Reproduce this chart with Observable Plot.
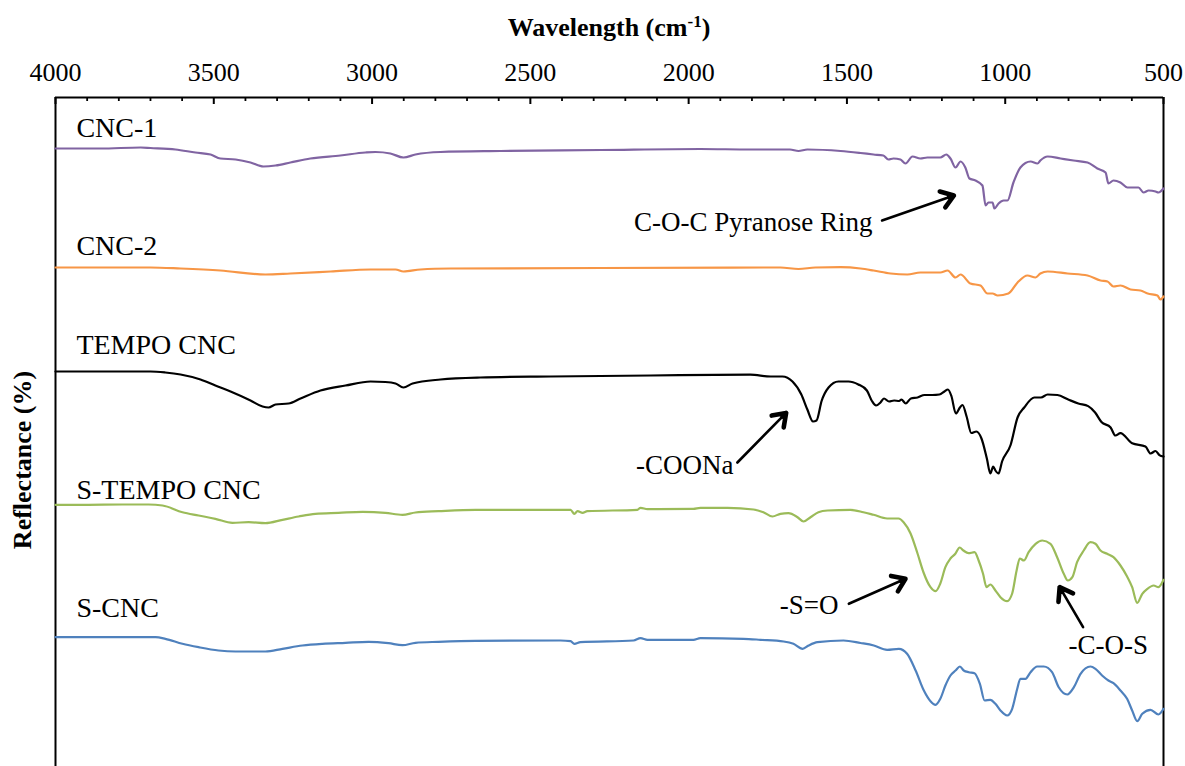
<!DOCTYPE html>
<html>
<head>
<meta charset="utf-8">
<script src="https://cdn.jsdelivr.net/npm/d3@7"></script>
<script src="https://cdn.jsdelivr.net/npm/@observablehq/plot@0.6"></script>
<style>
  html, body { margin: 0; padding: 0; background: #fff; }
  #chart { width: 1185px; height: 766px; overflow: hidden; }
</style>
</head>
<body>
<div id="chart"></div>
<script>
// ---------------- DATA ----------------
const xTicks = [4000, 3500, 3000, 2500, 2000, 1500, 1000, 500];
const xMinorTicks = [3900,3800,3700,3600,3400,3300,3200,3100,2900,2800,2700,2600,2400,2300,2200,2100,1900,1800,1700,1600,1400,1300,1200,1100,900,800,700,600];

const seriesNames = ["CNC-1", "CNC-2", "TEMPO CNC", "S-TEMPO CNC", "S-CNC"];
const seriesColors = ["#8064A2", "#F79646", "#000000", "#9BBB59", "#4F81BD"];

// [wavenumber (cm-1), reflectance (offset, a.u.)]
const cnc1 = [
[4000,61.8],[3858,61.8],[3731,61.9],[3700,61.85],[3621,61.7],[3558,61.4],[3510,61.2],[3479,60.8],[3431,60.7],[3384,60.4],
[3343,60.0],[3305,60.1],[3258,60.4],[3195,60.8],[3100,61.1],[3021,61.4],[2989,61.45],[2942,61.3],[2901,60.9],[2863,61.2],
[2784,61.45],[2594,61.55],[2278,61.65],[1963,61.75],[1805,61.7],[1680,61.7],[1653,61.55],[1625,61.7],[1520,61.55],[1457,61.35],
[1416,61.2],[1385,61.1],[1369,60.7],[1353,60.8],[1331,60.7],[1315,60.3],[1293,61.0],[1268,60.8],[1246,60.9],[1205,60.9],
[1186,61.2],[1173,60.8],[1157,59.9],[1141,60.5],[1126,59.9],[1113,58.8],[1094,58.6],[1072,58.1],[1062,56.1],[1053,56.4],
[1040,56.4],[1034,55.8],[1021,56.3],[1005,56.6],[993,56.6],[974,58.4],[952,59.9],[920,60.5],[898,60.3],[889,60.6],
[866,61.0],[825,60.8],[784,60.6],[740,60.4],[709,59.8],[683,59.4],[674,58.3],[658,58.6],[636,58.4],[614,57.9],
[579,57.9],[563,57.4],[547,57.6],[525,57.5],[516,57.4],[500,57.8]
];
const cnc2 = [
[4000,49.9],[3700,49.9],[3605,49.8],[3479,49.6],[3337,49.2],[3258,49.3],[3131,49.5],[3005,49.7],[2926,49.7],[2901,49.5],
[2847,49.7],[2752,49.8],[2278,49.85],[1710,49.9],[1653,49.75],[1600,49.9],[1520,49.93],[1457,49.8],[1416,49.6],[1362,49.3],
[1309,49.2],[1268,49.4],[1205,49.4],[1182,49.6],[1157,48.9],[1141,49.2],[1110,48.3],[1078,48.1],[1056,47.3],[1040,47.3],
[1024,47.1],[990,47.3],[961,48.4],[930,49.1],[904,48.9],[889,49.3],[866,49.5],[803,49.3],[740,49.1],[699,48.6],
[677,48.5],[658,48.0],[636,48.1],[604,47.7],[573,47.6],[550,47.3],[519,47.1],[510,46.7],[500,47.0]
];
const tempo = [
[4000,39.5],[3700,39.5],[3653,39.4],[3605,39.2],[3542,38.7],[3495,38.1],[3447,37.5],[3384,36.6],[3346,36.0],[3327,35.9],
[3305,36.2],[3264,36.3],[3226,36.8],[3163,37.6],[3084,38.1],[3005,38.5],[2958,38.45],[2926,38.3],[2901,37.9],[2872,38.3],
[2784,38.7],[2658,38.9],[2436,39.0],[2120,39.1],[1805,39.18],[1741,39.0],[1704,39.0],[1672,38.5],[1644,37.2],[1625,35.7],
[1607,34.5],[1596,34.6],[1580,36.55],[1558,37.9],[1527,38.5],[1495,38.5],[1464,38.2],[1437,37.6],[1421,36.55],[1408,36.1],
[1394,36.4],[1383,36.8],[1367,36.5],[1351,36.6],[1335,36.55],[1328,36.7],[1314,36.3],[1298,36.8],[1277,36.9],[1255,37.15],
[1230,37.15],[1208,37.2],[1192,37.5],[1181,37.7],[1170,37.05],[1156,35.3],[1143,35.9],[1135,36.15],[1122,35.0],[1107,33.35],
[1091,33.5],[1075,32.8],[1058,30.8],[1047,29.3],[1038,30.0],[1031,29.6],[1021,29.3],[1010,30.5],[983,32.15],[961,34.9],
[940,35.9],[908,36.9],[887,36.9],[866,37.2],[835,37.15],[801,36.7],[769,36.3],[738,36.04],[716,35.4],[696,34.45],
[667,33.9],[652,33.1],[636,33.34],[599,32.32],[557,32.0],[541,31.3],[525,31.55],[513,31.14],[500,31.0]
];
const sTempo = [
[4000,26.17],[3896,26.17],[3788,26.2],[3706,26.2],[3662,26.1],[3599,25.43],[3548,25.1],[3495,24.77],[3441,24.37],[3390,24.43],
[3337,24.33],[3283,24.67],[3232,25.0],[3179,25.27],[3106,25.37],[3030,25.47],[2958,25.37],[2904,25.17],[2863,25.4],[2790,25.53],
[2673,25.67],[2446,25.67],[2373,25.67],[2361,25.27],[2351,25.53],[2335,25.37],[2320,25.53],[2162,25.67],[2152,25.87],[2130,25.73],
[1985,25.77],[1963,25.87],[1877,25.87],[1795,25.7],[1764,25.43],[1735,25.0],[1710,25.27],[1685,25.33],[1656,24.93],[1637,24.5],
[1615,24.93],[1590,25.43],[1561,25.6],[1489,25.67],[1448,25.43],[1416,25.17],[1373,24.8],[1337,24.8],[1321,24.43],[1299,23.3],
[1277,21.3],[1258,19.4],[1236,17.93],[1220,17.53],[1205,18.3],[1189,19.93],[1173,20.8],[1157,21.3],[1144,21.9],[1132,21.6],
[1116,21.33],[1097,21.43],[1084,20.6],[1070,19.27],[1059,17.93],[1047,18.2],[1031,17.6],[1015,16.93],[994,16.53],[978,17.3],
[964,19.6],[954,20.8],[941,20.6],[926,21.43],[904,22.27],[883,22.6],[857,22.27],[836,20.93],[815,19.27],[802,18.6],
[788,18.93],[773,20.43],[752,21.6],[731,22.43],[715,22.27],[699,21.6],[678,21.27],[658,20.93],[636,20.1],[615,19.0],
[599,17.93],[583,16.37],[567,17.27],[551,17.77],[531,18.1],[516,17.93],[500,18.67]
];
const sCnc = [
[4000,12.93],[3684,12.93],[3653,12.77],[3599,12.27],[3548,11.93],[3485,11.6],[3431,11.5],[3337,11.5],[3283,11.77],[3220,12.1],
[3157,12.27],[3084,12.37],[3011,12.47],[2948,12.33],[2904,12.13],[2863,12.37],[2790,12.47],[2673,12.57],[2405,12.6],[2373,12.53],
[2361,12.27],[2342,12.43],[2174,12.6],[2152,12.83],[2130,12.67],[1985,12.67],[1963,12.83],[1827,12.77],[1773,12.67],[1700,12.5],
[1669,12.27],[1640,11.77],[1621,12.1],[1593,12.43],[1511,12.6],[1457,12.35],[1415,12.1],[1373,11.67],[1336,11.77],[1310,11.27],
[1283,9.6],[1257,7.6],[1236,6.53],[1220,6.17],[1205,6.77],[1189,8.1],[1173,9.1],[1157,9.6],[1143,10.0],[1131,9.6],
[1115,9.43],[1097,9.33],[1080,8.27],[1065,6.6],[1047,6.67],[1031,6.27],[1015,5.6],[994,5.1],[978,5.77],[962,7.77],
[952,8.77],[936,8.77],[920,9.43],[899,10.0],[878,10.0],[852,9.43],[831,7.93],[804,7.2],[783,7.93],[762,9.27],
[731,10.0],[715,9.77],[694,9.1],[674,8.6],[658,8.33],[636,7.6],[615,6.77],[599,5.6],[583,4.53],[567,5.27],
[541,5.67],[516,5.2],[500,5.77]
];

// series label anchors (wavenumber, value)
const seriesLabelW = [3934, 3934, 3934, 3934, 3934];
const seriesLabelR = [63.8, 52.0, 42.1, 27.6, 15.8];

// band annotations
const annotTexts = ["C-O-C Pyranose Ring", "-COONa", "-S=O", "-C-O-S"];
const annotW = [1419, 1858, 1527, 800];
const annotR = [54.43, 30.1, 16.1, 12.1];
const annotAnchor = ["end", "end", "end", "start"];
const arrowFrom = [[1389, 54.6], [1846, 30.4], [1494, 16.27], [754, 13.93]];
const arrowTo   = [[1162, 57.1], [1692, 35.36], [1315, 18.77], [828, 17.93]];

// ---------------- BUILD ----------------
const xDomain = [4000, 500];
const yTop = 66.9;
const W = 1185, H = 766;
const FONT = "'Liberation Serif', 'Times New Roman', Times, serif";

const spectra = [cnc1, cnc2, tempo, sTempo, sCnc];
const rows = spectra.flatMap((s, k) => s.map(([w, r]) => ({series: seriesNames[k], w, r})));
const seriesLabels = seriesNames.map((name, k) => ({name, w: seriesLabelW[k], r: seriesLabelR[k]}));
const annots = annotTexts.map((t, k) => ({t, w: annotW[k], r: annotR[k], anchor: annotAnchor[k]}));
const arrows = arrowFrom.map((f, k) => ({x1: f[0], y1: f[1], x2: arrowTo[k][0], y2: arrowTo[k][1]}));

function options(marks) {
  return {
    width: W, height: H,
    marginTop: 97, marginLeft: 55, marginRight: 22, marginBottom: 0,
    x: {domain: xDomain},
    y: {domain: [0, yTop], axis: null},
    color: {domain: seriesNames, range: seriesColors},
    style: {fontFamily: FONT, fontSize: "26px", background: "white", color: "black", overflow: "visible"},
    marks
  };
}

const baseMarks = [
  Plot.ruleY([yTop], {stroke: "black", strokeWidth: 2}),
  Plot.ruleX(xDomain, {stroke: "black", strokeWidth: 2}),
  Plot.ruleX(xMinorTicks, {x: d => d, y1: yTop, y2: yTop - 0.4, stroke: "black", strokeWidth: 1.8}),
  Plot.ruleX(xTicks, {x: d => d, y1: yTop, y2: yTop - 0.7, stroke: "black", strokeWidth: 2}),
  Plot.axisX({anchor: "top", ticks: xTicks, tickSize: 0, tickPadding: 17, tickFormat: d => String(d), fontSize: 26, label: null}),
  Plot.line(rows, {x: "w", y: "r", z: "series", stroke: "series", strokeWidth: 2.2, curve: "monotone-x"}),
  Plot.text(seriesLabels, {x: "w", y: "r", text: "name", textAnchor: "start", fontSize: 28, fill: "black"}),
  Plot.text(annots.filter(a => a.anchor === "end"), {x: "w", y: "r", text: "t", textAnchor: "end", fontSize: 27, fill: "black"}),
  Plot.text(annots.filter(a => a.anchor === "start"), {x: "w", y: "r", text: "t", textAnchor: "start", fontSize: 27, fill: "black"}),
  Plot.arrow(arrows, {x1: "x1", y1: "y1", x2: "x2", y2: "y2", stroke: "black", strokeWidth: 2.6, headLength: 0})
];

// first pass to get pixel lengths of the arrows (for bold heads)
const pre = Plot.plot(options(baseMarks));
const sx = pre.scale("x"), sy = pre.scale("y");
const headMarks = arrows.map(a => {
  const len = Math.hypot(sx.apply(a.x2) - sx.apply(a.x1), sy.apply(a.y2) - sy.apply(a.y1));
  return Plot.arrow([a], {x1: "x1", y1: "y1", x2: "x2", y2: "y2", stroke: "black",
    strokeWidth: 4.6, headLength: 4.8, headAngle: 70, insetStart: Math.max(0, len - 5)});
});

const chart = Plot.plot(options([...baseMarks, ...headMarks]));
document.getElementById("chart").appendChild(chart);

// axis titles with superscript
const svg = d3.select(chart);
const cx = (55 + (W - 22)) / 2;
const title = svg.append("text")
  .attr("x", cx).attr("y", 36)
  .attr("text-anchor", "middle")
  .attr("font-family", FONT).attr("font-weight", "bold").attr("font-size", 26)
  .attr("fill", "black");
title.append("tspan").text("Wavelength (cm");
title.append("tspan").attr("dy", -9).attr("font-size", 17).text("-1");
title.append("tspan").attr("dy", 9).text(")");

svg.append("text")
  .attr("transform", "translate(31,460) rotate(-90)")
  .attr("text-anchor", "middle")
  .attr("font-family", FONT).attr("font-weight", "bold").attr("font-size", 26)
  .attr("fill", "black")
  .text("Reflectance (%)");
</script>
</body>
</html>
